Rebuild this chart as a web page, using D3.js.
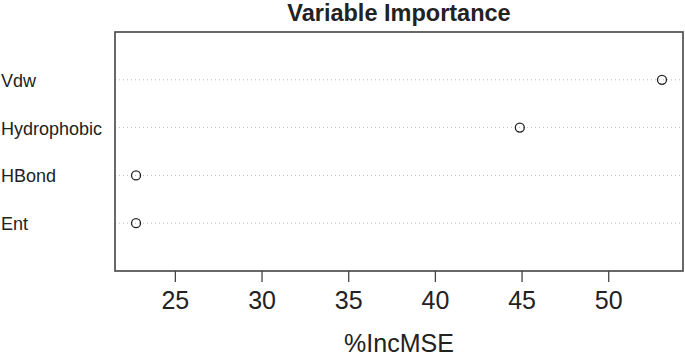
<!DOCTYPE html>
<html>
<head>
<meta charset="utf-8">
<script src="https://cdn.jsdelivr.net/npm/d3@7"></script>
<style>
  body { margin: 0; background: #fff; }
  text { font-family: "Liberation Sans", Arial, sans-serif; fill: #222; }
</style>
</head>
<body>
<div id="chart"></div>
<script>
// variables and their %IncMSE, bottom to top like the R dotchart
const vars = ["Ent", "HBond", "Hydrophobic", "Vdw"];
const incMSE = [22.76, 22.76, 44.9, 53.1];
const xTicks = [25, 30, 35, 40, 45, 50];

let width = 685, height = 357,
    margin = ({ top: 32, right: 2, bottom: 86, left: 115 });

const svg = d3.select("#chart")
    .append("svg")
    .attr("width", width)
    .attr("height", height);

// R pads the range by 4% on each side
const lo = d3.min(incMSE), hi = d3.max(incMSE), pad = (hi - lo) * 0.04;

let x = d3.scaleLinear()
    .domain([lo - pad, hi + pad])
    .range([margin.left, width - margin.right]);

let y = d3.scaleLinear()
    .domain([0, vars.length + 1])
    .range([height - margin.bottom, margin.top]);

// dotted guide lines
svg.append("g")
    .selectAll("line")
    .data(vars)
    .join("line")
    .attr("x1", margin.left)
    .attr("x2", width - margin.right)
    .attr("y1", (d, i) => y(i + 1))
    .attr("y2", (d, i) => y(i + 1))
    .attr("stroke", "#bbb")
    .attr("stroke-width", 1)
    .attr("stroke-dasharray", "1,3");

// points
svg.append("g")
    .selectAll("circle")
    .data(incMSE)
    .join("circle")
    .attr("cx", d => x(d))
    .attr("cy", (d, i) => y(i + 1))
    .attr("r", 4.5)
    .attr("fill", "none")
    .attr("stroke", "#222")
    .attr("stroke-width", 1.3);

// box
svg.append("rect")
    .attr("x", margin.left)
    .attr("y", margin.top)
    .attr("width", width - margin.right - margin.left)
    .attr("height", height - margin.bottom - margin.top)
    .attr("fill", "none")
    .attr("stroke", "#444")
    .attr("stroke-width", 1.6);

// x axis
const xAxis = svg.append("g")
    .attr("transform", `translate(0,${height - margin.bottom})`)
    .call(d3.axisBottom(x).tickValues(xTicks).tickSize(11).tickPadding(9).tickSizeOuter(0));
xAxis.select(".domain").remove();
xAxis.selectAll(".tick line").attr("stroke", "#444").attr("stroke-width", 1.3);
xAxis.selectAll(".tick text")
    .attr("font-size", 25)
    .attr("font-family", "Liberation Sans, Arial, sans-serif")
    .attr("fill", "#222");

// variable labels, left aligned
svg.append("g")
    .selectAll("text")
    .data(vars)
    .join("text")
    .attr("x", 1)
    .attr("y", (d, i) => y(i + 1) + 7)
    .attr("font-size", 18)
    .text(d => d);

// title and x label
svg.append("text")
    .attr("x", (margin.left + width - margin.right) / 2)
    .attr("y", 21)
    .attr("text-anchor", "middle")
    .attr("font-size", 23.5)
    .attr("font-weight", "bold")
    .text("Variable Importance");

svg.append("text")
    .attr("x", (margin.left + width - margin.right) / 2)
    .attr("y", 352)
    .attr("text-anchor", "middle")
    .attr("font-size", 25)
    .text("%IncMSE");
</script>
</body>
</html>
